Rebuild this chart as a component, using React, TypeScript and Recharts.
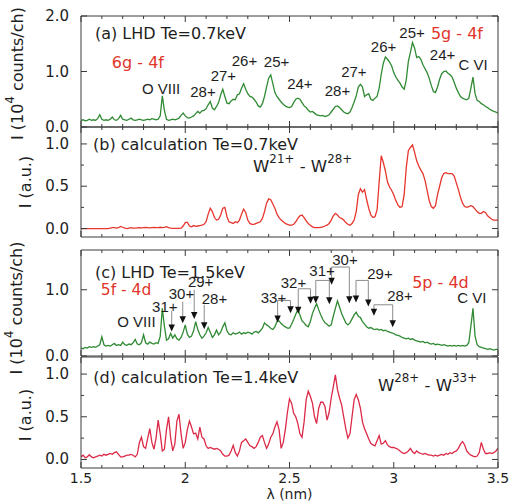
import React from 'react';
import { LineChart, Line, XAxis, YAxis, ReferenceDot, ReferenceLine } from 'recharts';

// Wavelength grid (nm) shared by all four spectra
const WAVELENGTH = [
  1.5, 1.51, 1.52, 1.53, 1.54, 1.55, 1.56, 1.57, 1.58, 1.59,
  1.6, 1.61, 1.62, 1.63, 1.64, 1.65, 1.66, 1.67, 1.68, 1.69,
  1.7, 1.71, 1.72, 1.73, 1.74, 1.75, 1.76, 1.77, 1.78, 1.79,
  1.8, 1.81, 1.82, 1.83, 1.84, 1.85, 1.86, 1.87, 1.88, 1.89,
  1.9, 1.91, 1.92, 1.93, 1.94, 1.95, 1.96, 1.97, 1.98, 1.99,
  2.0, 2.01, 2.02, 2.03, 2.04, 2.05, 2.06, 2.07, 2.08, 2.09,
  2.1, 2.11, 2.12, 2.13, 2.14, 2.15, 2.16, 2.17, 2.18, 2.19,
  2.2, 2.21, 2.22, 2.23, 2.24, 2.25, 2.26, 2.27, 2.28, 2.29,
  2.3, 2.31, 2.32, 2.33, 2.34, 2.35, 2.36, 2.37, 2.38, 2.39,
  2.4, 2.41, 2.42, 2.43, 2.44, 2.45, 2.46, 2.47, 2.48, 2.49,
  2.5, 2.51, 2.52, 2.53, 2.54, 2.55, 2.56, 2.57, 2.58, 2.59,
  2.6, 2.61, 2.62, 2.63, 2.64, 2.65, 2.66, 2.67, 2.68, 2.69,
  2.7, 2.71, 2.72, 2.73, 2.74, 2.75, 2.76, 2.77, 2.78, 2.79,
  2.8, 2.81, 2.82, 2.83, 2.84, 2.85, 2.86, 2.87, 2.88, 2.89,
  2.9, 2.91, 2.92, 2.93, 2.94, 2.95, 2.96, 2.97, 2.98, 2.99,
  3.0, 3.01, 3.02, 3.03, 3.04, 3.05, 3.06, 3.07, 3.08, 3.09,
  3.1, 3.11, 3.12, 3.13, 3.14, 3.15, 3.16, 3.17, 3.18, 3.19,
  3.2, 3.21, 3.22, 3.23, 3.24, 3.25, 3.26, 3.27, 3.28, 3.29,
  3.3, 3.31, 3.32, 3.33, 3.34, 3.35, 3.36, 3.37, 3.38, 3.39,
  3.4, 3.41, 3.42, 3.43, 3.44, 3.45, 3.46, 3.47, 3.48, 3.49,
  3.5,
];

// (a) LHD measurement, Te = 0.7 keV  [10^4 counts/ch]
const LHD_07 = [
  0.12, 0.13, 0.11, 0.12, 0.14, 0.12, 0.13, 0.12, 0.15, 0.22,
  0.14, 0.12, 0.13, 0.12, 0.14, 0.18, 0.13, 0.12, 0.15, 0.21,
  0.14, 0.13, 0.12, 0.14, 0.16, 0.13, 0.12, 0.13, 0.14, 0.13,
  0.12, 0.13, 0.14, 0.13, 0.15, 0.14, 0.13, 0.14, 0.2, 0.56,
  0.3, 0.14, 0.12, 0.13, 0.14, 0.13, 0.14, 0.16, 0.21, 0.25,
  0.2, 0.17, 0.16, 0.18, 0.2, 0.24, 0.28, 0.25, 0.29, 0.3,
  0.33, 0.4, 0.46, 0.34, 0.31, 0.37, 0.44, 0.58, 0.68, 0.55,
  0.43, 0.42, 0.47, 0.5, 0.49, 0.58, 0.6, 0.7, 0.78, 0.68,
  0.6, 0.55, 0.54, 0.5, 0.45, 0.38, 0.36, 0.42, 0.55, 0.72,
  0.88, 0.94, 0.78, 0.62, 0.55, 0.5, 0.45, 0.41, 0.38, 0.36,
  0.35, 0.37, 0.44, 0.5, 0.52, 0.5, 0.44, 0.38, 0.35, 0.3,
  0.27, 0.28, 0.25, 0.22, 0.21, 0.2, 0.21, 0.19, 0.2, 0.22,
  0.27, 0.32, 0.37, 0.38, 0.35, 0.31, 0.27, 0.25, 0.24, 0.27,
  0.35, 0.45, 0.56, 0.72, 0.77, 0.72, 0.55, 0.58, 0.6, 0.5,
  0.48, 0.52, 0.55, 0.7, 0.95, 1.15, 1.26, 1.22, 1.17, 1.1,
  0.98, 0.9, 0.84, 0.79, 0.72, 0.68, 0.85, 1.18, 1.35, 1.52,
  1.42, 1.25, 1.27, 1.22, 1.12, 1.05, 0.98, 0.88, 0.75, 0.64,
  0.62, 0.72, 0.86, 0.96, 1.0, 1.01, 0.97, 0.94, 0.9, 0.8,
  0.7, 0.62, 0.55, 0.52, 0.5, 0.49, 0.52, 0.7, 0.9, 0.6,
  0.48, 0.46, 0.42, 0.4, 0.37, 0.35, 0.32, 0.3, 0.28, 0.27,
  0.25,
];

// (b) calculation, Te = 0.7 keV, W21+ - W28+  [a.u.]
const CALC_07 = [
  0, 0, 0, 0, 0, 0, 0, 0, 0, 0,
  0, 0, 0, 0, 0.005, 0.01, 0.01, 0.005, 0.01, 0.025,
  0.015, 0.005, 0, 0.005, 0.01, 0.005, 0.005, 0.008, 0.01, 0.008,
  0.01, 0.012, 0.01, 0.008, 0.01, 0.012, 0.01, 0.012, 0.015, 0.01,
  0.015, 0.022, 0.01, 0.005, 0.002, 0.002, 0.002, 0.003, 0.005, 0.03,
  0.07, 0.075, 0.03, 0.02, 0.035, 0.025, 0.03, 0.035, 0.04, 0.05,
  0.08, 0.17, 0.24, 0.2, 0.13, 0.1, 0.11, 0.16, 0.24, 0.25,
  0.14, 0.08, 0.07, 0.06, 0.08, 0.07, 0.1, 0.17, 0.23, 0.19,
  0.1, 0.06, 0.05, 0.05, 0.06, 0.07, 0.08, 0.12, 0.2, 0.3,
  0.35, 0.34, 0.29, 0.24, 0.17, 0.13, 0.1, 0.08, 0.06, 0.05,
  0.04, 0.04, 0.05, 0.08, 0.12, 0.15, 0.16, 0.13, 0.09, 0.06,
  0.04, 0.02, 0.01, 0.01, 0.01, 0.015, 0.02, 0.03, 0.04, 0.06,
  0.1, 0.15, 0.18, 0.16, 0.13, 0.12, 0.1, 0.07, 0.05, 0.04,
  0.06, 0.1, 0.2, 0.4, 0.47, 0.43, 0.46, 0.34, 0.24, 0.16,
  0.13, 0.14, 0.22, 0.55, 0.86, 0.78, 0.68, 0.55, 0.49, 0.45,
  0.4, 0.33, 0.28, 0.25, 0.26, 0.4, 0.72, 0.92, 0.96, 0.99,
  0.9, 0.8, 0.74, 0.69, 0.65, 0.57, 0.45, 0.33, 0.26, 0.24,
  0.27, 0.4, 0.5, 0.6, 0.65, 0.66, 0.65, 0.65, 0.65, 0.62,
  0.54, 0.46, 0.37, 0.3, 0.26, 0.25, 0.26, 0.27, 0.26, 0.23,
  0.2, 0.18, 0.18, 0.2, 0.19, 0.15, 0.13, 0.11, 0.1, 0.1,
  0.1,
];

// (c) LHD measurement, Te = 1.5 keV  [10^4 counts/ch]
const LHD_15 = [
  0.12, 0.11, 0.13, 0.12, 0.14, 0.13, 0.14, 0.13, 0.15, 0.17,
  0.29, 0.17, 0.15, 0.16, 0.15, 0.17, 0.19, 0.16, 0.17, 0.16,
  0.21, 0.17, 0.16, 0.18, 0.17, 0.2, 0.25, 0.18, 0.17, 0.2,
  0.32, 0.2, 0.18, 0.21, 0.19, 0.18, 0.2, 0.19, 0.3, 0.72,
  0.45, 0.24, 0.26, 0.34, 0.27, 0.32, 0.26, 0.24, 0.28, 0.36,
  0.47, 0.33, 0.28, 0.3, 0.38, 0.52, 0.4, 0.32, 0.27, 0.3,
  0.35, 0.43, 0.36, 0.28, 0.32, 0.39, 0.32, 0.36, 0.44, 0.5,
  0.38, 0.33, 0.32, 0.35, 0.33, 0.34, 0.36, 0.33, 0.35, 0.34,
  0.36, 0.35, 0.33, 0.36, 0.37, 0.35, 0.38, 0.42, 0.5, 0.47,
  0.45, 0.42, 0.4, 0.44, 0.52, 0.53, 0.49, 0.46, 0.44, 0.42,
  0.42, 0.48, 0.55, 0.63, 0.7, 0.62, 0.53, 0.5, 0.46, 0.44,
  0.52, 0.64, 0.72, 0.79, 0.7, 0.62, 0.55, 0.5, 0.48, 0.45,
  0.47, 0.6, 0.72, 0.83, 0.74, 0.64, 0.57, 0.5, 0.47, 0.5,
  0.56, 0.62, 0.66, 0.6, 0.58, 0.52, 0.48, 0.44, 0.42, 0.43,
  0.41, 0.4, 0.41, 0.39, 0.4, 0.38, 0.39, 0.37, 0.36, 0.35,
  0.34, 0.32, 0.31, 0.3, 0.28, 0.27, 0.26, 0.27, 0.25, 0.26,
  0.24, 0.23, 0.22, 0.21, 0.22, 0.2, 0.21, 0.19, 0.18, 0.19,
  0.17, 0.18, 0.17, 0.16, 0.17, 0.16, 0.15, 0.16, 0.15, 0.16,
  0.15, 0.16, 0.15, 0.16, 0.15, 0.16, 0.2, 0.45, 0.72, 0.3,
  0.17, 0.14, 0.13, 0.12, 0.11, 0.1, 0.11, 0.1, 0.09, 0.1,
  0.1,
];

// (d) calculation, Te = 1.4 keV, W28+ - W33+  [a.u.]
const CALC_14 = [
  0.03, 0.05, 0.02, 0.03, 0.055, 0.03, 0.02, 0.03, 0.04, 0.05,
  0.04, 0.06, 0.05, 0.06, 0.07, 0.06, 0.08, 0.09, 0.06, 0.03,
  0.03, 0.04, 0.05, 0.05, 0.06, 0.05, 0.03, 0.06, 0.2, 0.26,
  0.15, 0.13, 0.25, 0.36, 0.2, 0.12, 0.25, 0.46, 0.3, 0.1,
  0.12, 0.35, 0.5, 0.25, 0.1, 0.18, 0.45, 0.53, 0.3, 0.13,
  0.2, 0.35, 0.45, 0.38, 0.3, 0.31, 0.24, 0.38, 0.26, 0.24,
  0.16, 0.13, 0.14, 0.13, 0.12, 0.13, 0.12, 0.1, 0.06, 0.04,
  0.04, 0.05, 0.1, 0.165, 0.08, 0.04, 0.1, 0.2, 0.22, 0.24,
  0.2, 0.16, 0.15, 0.13, 0.15, 0.2, 0.26, 0.28, 0.2, 0.13,
  0.18, 0.26, 0.3, 0.38, 0.44, 0.35, 0.13, 0.2, 0.35, 0.55,
  0.71, 0.66, 0.54, 0.5, 0.42, 0.3, 0.26, 0.44, 0.7, 0.8,
  0.74, 0.66, 0.5, 0.42, 0.6, 0.67, 0.67, 0.62, 0.46, 0.55,
  0.72, 0.85, 0.99, 0.82, 0.72, 0.64, 0.5, 0.36, 0.25, 0.3,
  0.5, 0.7, 0.76, 0.7, 0.6, 0.44, 0.36, 0.3, 0.24, 0.19,
  0.17, 0.16, 0.22, 0.28, 0.18, 0.19, 0.22, 0.17, 0.15, 0.14,
  0.14, 0.13, 0.12, 0.1, 0.08, 0.07, 0.08, 0.1, 0.13, 0.09,
  0.07, 0.1, 0.08, 0.07, 0.06, 0.07, 0.06, 0.05, 0.05, 0.04,
  0.05, 0.04, 0.05, 0.06, 0.05, 0.07, 0.06, 0.08, 0.07, 0.09,
  0.1, 0.13, 0.18, 0.21, 0.17, 0.1, 0.07, 0.05, 0.04, 0.03,
  0.04, 0.08, 0.2, 0.12, 0.07, 0.07, 0.08, 0.07, 0.08, 0.1,
  0.13,
];

const X_TICKS = [
  1.5, 1.6, 1.7, 1.8, 1.9, 2.0, 2.1, 2.2, 2.3, 2.4, 2.5,
  2.6, 2.7, 2.8, 2.9, 3.0, 3.1, 3.2, 3.3, 3.4, 3.5,
];
const X_TICK_LABELS = [1.5, 2, 2.5, 3, 3.5];

const Y_TICKS_A = [0, 1, 2];
const Y_LABELS_A = [0, 1, 2];
const Y_TICKS_B = [0, 0.25, 0.5, 0.75, 1];
const Y_LABELS_B = [0, 0.5, 1];
const Y_TICKS_C = [0, 1];
const Y_LABELS_C = [0, 1];
const Y_TICKS_D = [0, 0.25, 0.5, 0.75, 1];
const Y_LABELS_D = [0, 0.5, 1];

type Note = { x: number; y: number; text: string; red?: boolean; start?: boolean; size?: number; wide?: boolean };

// Annotations, anchored in (wavelength, intensity) coordinates
const NOTES_A: Note[] = [
  { x: 1.567, y: 1.694, text: '(a) LHD Te=0.7keV', start: true, size: 16, wide: true },
  { x: 1.773, y: 1.171, text: '6g - 4f', red: true, size: 16, wide: true },
  { x: 1.884, y: 0.703, text: 'O VIII' },
  { x: 2.085, y: 0.649, text: '28+' },
  { x: 2.183, y: 0.937, text: '27+' },
  { x: 2.284, y: 1.207, text: '26+' },
  { x: 2.438, y: 1.189, text: '25+' },
  { x: 2.55, y: 0.793, text: '24+' },
  { x: 2.73, y: 0.667, text: '28+' },
  { x: 2.809, y: 1.009, text: '27+' },
  { x: 2.951, y: 1.459, text: '26+' },
  { x: 3.088, y: 1.712, text: '25+' },
  { x: 3.234, y: 1.315, text: '24+' },
  { x: 3.303, y: 1.694, text: '5g - 4f', red: true, size: 16, wide: true },
  { x: 3.38, y: 1.135, text: 'C VI' },
];

const NOTES_B: Note[] = [
  { x: 1.558, y: 1.0, text: '(b) calculation Te=0.7keV', start: true, size: 16, wide: true },
  { x: 2.325, y: 0.735, text: 'W^{21+} - W^{28+}', start: true, size: 16.5, wide: true },
];

const NOTES_C: Note[] = [
  { x: 1.567, y: 1.273, text: '(c) LHD Te=1.5keV', start: true, size: 16, wide: true },
  { x: 1.716, y: 0.99, text: '5f - 4d', red: true, size: 15.5, wide: true },
  { x: 1.766, y: 0.53, text: 'O VIII' },
  { x: 1.902, y: 0.75, text: '31+' },
  { x: 1.982, y: 0.95, text: '30+' },
  { x: 2.074, y: 1.125, text: '29+' },
  { x: 2.14, y: 0.879, text: '28+' },
  { x: 2.423, y: 0.894, text: '33+' },
  { x: 2.519, y: 1.121, text: '32+' },
  { x: 2.656, y: 1.303, text: '31+' },
  { x: 2.766, y: 1.47, text: '30+' },
  { x: 2.934, y: 1.258, text: '29+' },
  { x: 3.03, y: 0.924, text: '28+' },
  { x: 3.224, y: 1.121, text: '5p - 4d', red: true, size: 16, wide: true },
  { x: 3.375, y: 0.894, text: 'C VI' },
];

// single arrows: [wavelength, from, to]
const ARROWS_C = [
  [1.935, 0.68, 0.368],
  [1.988, 0.82, 0.495],
  [2.043, 1.0, 0.56],
  [2.091, 0.773, 0.405],
];

// bracket arrows: [left wavelength, right wavelength, bar level, left tip, right tip]
const BRACKETS_C = [
  [2.443, 2.505, 0.838, 0.505, 0.647],
  [2.542, 2.601, 1.015, 0.636, 0.788],
  [2.626, 2.691, 1.141, 0.798, 0.783],
  [2.702, 2.787, 1.343, 1.076, 0.798],
  [2.819, 2.878, 1.141, 0.808, 0.747],
  [2.905, 2.995, 0.773, 0.606, 0.435],
];

const NOTES_D: Note[] = [
  { x: 1.559, y: 0.967, text: '(d) calculation Te=1.4keV', start: true, size: 16, wide: true },
  { x: 2.924, y: 0.874, text: 'W^{28+} - W^{33+}', start: true, size: 16.5, wide: true },
];

const FONT = '"DejaVu Sans", "Liberation Sans", Arial, sans-serif';
const ION_FONT = '"Liberation Sans", Arial, sans-serif';
const FRAME = '#3a3a3a';
const INK = '#1e1e1e';
const RED = '#e2352b';
const ARROW_GREY = '#8c8c8c';
const GREEN = '#2f8a33';
const PAD = 24;
const ION_SIZE = 15;

const near = (a: number, b: number) => Math.abs(a - b) < 1e-6;
const isHalf = (v: number) => near(v * 2, Math.round(v * 2));
const inList = (v: number, list: number[]) => list.some((l) => near(l, v));

// text with ^{...} superscripts
function richText(text: string, size: number) {
  const parts = text.split(/\^\{([^}]*)\}/);
  const shift = Math.round(size * 0.42);
  const spans: React.ReactNode[] = [];
  let up = false;
  parts.forEach((p, i) => {
    if (p === '') return;
    const sup = i % 2 === 1;
    let dy = 0;
    if (sup && !up) {
      dy = -shift;
      up = true;
    } else if (!sup && up) {
      dy = shift;
      up = false;
    }
    spans.push(
      <tspan key={i} dy={dy || undefined} fontSize={sup ? size * 0.72 : size}>
        {p}
      </tspan>
    );
  });
  return spans;
}

function noteDot(n: Note, key: string) {
  const size = n.size ?? ION_SIZE;
  return (
    <ReferenceDot
      key={key}
      x={n.x}
      y={n.y}
      r={0}
      ifOverflow="visible"
      shape={(p: any) => (
        <text
          x={p.cx}
          y={p.cy}
          textAnchor={n.start ? 'start' : 'middle'}
          dominantBaseline="central"
          fontSize={size}
          fontFamily={n.wide ? FONT : ION_FONT}
          fill={n.red ? RED : INK}
        >
          {richText(n.text, size)}
        </text>
      )}
    />
  );
}

function arrowSeg(x1: number, y1: number, x2: number, y2: number, head: boolean, key: string) {
  return (
    <ReferenceLine
      key={key}
      segment={[
        { x: x1, y: y1 },
        { x: x2, y: y2 },
      ]}
      ifOverflow="visible"
      shape={(p: any) => (
        <g>
          <line x1={p.x1} y1={p.y1} x2={p.x2} y2={head ? p.y2 - 5 : p.y2} stroke={ARROW_GREY} strokeWidth={1} />
          {head ? (
            <path d={`M${p.x2},${p.y2} L${p.x2 - 3.2},${p.y2 - 7} L${p.x2 + 3.2},${p.y2 - 7} Z`} fill="#111" />
          ) : null}
        </g>
      )}
    />
  );
}

const xTick = (side: 'top' | 'bottom', labels: boolean) => (p: any) => {
  const v = p.payload.value;
  const len = isHalf(v) ? 6 : 3;
  const dir = side === 'bottom' ? -1 : 1;
  return (
    <g>
      <line x1={p.x} x2={p.x} y1={p.y} y2={p.y + dir * len} stroke={FRAME} strokeWidth={1} />
      {labels && inList(v, X_TICK_LABELS) ? (
        <text x={p.x} y={p.y + 10} textAnchor="middle" dominantBaseline="central" fontSize={14} fill={INK}>
          {String(v)}
        </text>
      ) : null}
    </g>
  );
};

const yTick = (side: 'left' | 'right', labels: number[]) => (p: any) => {
  const v = p.payload.value;
  const major = inList(v, labels);
  const len = major ? 6 : 3;
  const dir = side === 'left' ? 1 : -1;
  return (
    <g>
      <line x1={p.x} x2={p.x + dir * len} y1={p.y} y2={p.y} stroke={FRAME} strokeWidth={1} />
      {side === 'left' && inList(v, labels) ? (
        <text x={p.x - 12} y={p.y} textAnchor="end" dominantBaseline="central" fontSize={15} fill={INK}>
          {v.toFixed(1)}
        </text>
      ) : null}
    </g>
  );
};

type PanelCfg = {
  plotTop: number;
  plotHeight: number;
  values: number[];
  color: string;
  yDomain: [number, number];
  yTicks: number[];
  yLabels: number[];
  yTitle: string;
  titleDx: number;
  titleDy: number;
  xTitle?: string;
  notes: Note[];
  arrows?: number[][];
  brackets?: number[][];
};

function SpectrumPanel({ cfg }: { cfg: PanelCfg }) {
  const rows = WAVELENGTH.map((lam, i) => ({ lam, v: cfg.values[i] }));
  const hasX = !!cfg.xTitle;
  const bottomAxisH = hasX ? 34 : 2;
  const height = PAD + cfg.plotHeight + (hasX ? bottomAxisH : PAD);

  const extras: React.ReactNode[] = [];
  (cfg.arrows ?? []).forEach((a, i) => {
    extras.push(arrowSeg(a[0], a[1], a[0], a[2], true, `ar${i}`));
  });
  (cfg.brackets ?? []).forEach((b, i) => {
    extras.push(arrowSeg(b[0], b[2], b[0], b[3], true, `bl${i}`));
    extras.push(arrowSeg(b[0], b[2], b[1], b[2], false, `bt${i}`));
    extras.push(arrowSeg(b[1], b[2], b[1], b[4], true, `br${i}`));
  });
  cfg.notes.forEach((n, i) => extras.push(noteDot(n, `n${i}`)));

  return (
    <div style={{ position: 'absolute', left: 0, top: cfg.plotTop - PAD }}>
      <LineChart
        width={509}
        height={height}
        data={rows}
        margin={{ top: PAD - 2, right: 1, bottom: hasX ? 0 : PAD - 2, left: 41 }}
      >
        <XAxis
          dataKey="lam"
          type="number"
          domain={[1.5, 3.5]}
          allowDataOverflow
          ticks={X_TICKS}
          interval={0}
          height={bottomAxisH}
          tickSize={0}
          tickMargin={0}
          tickLine={false}
          axisLine={{ stroke: FRAME, strokeWidth: 1 }}
          tick={xTick('bottom', hasX)}
          label={
            hasX
              ? (props: any) => {
                  const vb = props.viewBox;
                  return (
                    <text
                      x={vb.x + vb.width / 2}
                      y={vb.y + 26}
                      textAnchor="middle"
                      dominantBaseline="central"
                      fontSize={14}
                      fill={INK}
                    >
                      {cfg.xTitle}
                    </text>
                  );
                }
              : undefined
          }
        />
        <XAxis
          xAxisId="top"
          dataKey="lam"
          orientation="top"
          type="number"
          domain={[1.5, 3.5]}
          allowDataOverflow
          ticks={X_TICKS}
          interval={0}
          height={2}
          tickSize={0}
          tickMargin={0}
          tickLine={false}
          axisLine={{ stroke: FRAME, strokeWidth: 1 }}
          tick={xTick('top', false)}
        />
        <YAxis
          type="number"
          domain={cfg.yDomain}
          allowDataOverflow
          ticks={cfg.yTicks}
          interval={0}
          width={40}
          tickSize={0}
          tickMargin={0}
          tickLine={false}
          axisLine={{ stroke: FRAME, strokeWidth: 1 }}
          tick={yTick('left', cfg.yLabels)}
          label={(props: any) => {
            const vb = props.viewBox;
            const cx = vb.x + cfg.titleDx;
            const cy = vb.y + vb.height / 2 + cfg.titleDy;
            return (
              <text
                x={cx}
                y={cy}
                transform={`rotate(-90 ${cx} ${cy})`}
                textAnchor="middle"
                dominantBaseline="central"
                fontSize={16}
                fill={INK}
              >
                {richText(cfg.yTitle, 16)}
              </text>
            );
          }}
        />
        <YAxis
          yAxisId="right"
          dataKey="v"
          orientation="right"
          type="number"
          domain={cfg.yDomain}
          allowDataOverflow
          ticks={cfg.yTicks}
          interval={0}
          width={10}
          tickSize={0}
          tickMargin={0}
          tickLine={false}
          axisLine={{ stroke: FRAME, strokeWidth: 1 }}
          tick={yTick('right', cfg.yLabels)}
        />
        <Line
          type="linear"
          dataKey="v"
          stroke={cfg.color}
          strokeWidth={1.3}
          dot={false}
          activeDot={false}
          isAnimationActive={false}
        />
        {extras}
      </LineChart>
    </div>
  );
}

const PANELS: PanelCfg[] = [
  {
    plotTop: 16, plotHeight: 111, values: LHD_07, color: GREEN,
    yDomain: [0, 2], yTicks: Y_TICKS_A, yLabels: Y_LABELS_A,
    yTitle: 'I (10^{4} counts/ch)', titleDx: -24, titleDy: 2, notes: NOTES_A,
  },
  {
    plotTop: 127, plotHeight: 110, values: CALC_07, color: '#e6362e',
    yDomain: [-0.1, 1.2], yTicks: Y_TICKS_B, yLabels: Y_LABELS_B,
    yTitle: 'I (a.u.)', titleDx: -16, titleDy: 0, notes: NOTES_B,
  },
  {
    plotTop: 250, plotHeight: 106, values: LHD_15, color: GREEN,
    yDomain: [0, 1.6], yTicks: Y_TICKS_C, yLabels: Y_LABELS_C,
    yTitle: 'I (10^{4} counts/ch)', titleDx: -25, titleDy: 5, notes: NOTES_C,
    arrows: ARROWS_C, brackets: BRACKETS_C,
  },
  {
    plotTop: 357, plotHeight: 111, values: CALC_14, color: '#dc2a48',
    yDomain: [-0.1, 1.2], yTicks: Y_TICKS_D, yLabels: Y_LABELS_D,
    yTitle: 'I (a.u.)', titleDx: -16, titleDy: 2.5, notes: NOTES_D, xTitle: 'λ (nm)',
  },
];

export default function App() {
  return (
    <div
      style={{
        position: 'absolute',
        left: 0,
        top: 0,
        width: 509,
        height: 502,
        overflow: 'hidden',
        background: '#ffffff',
        fontFamily: FONT,
      }}
    >
      {PANELS.map((cfg, i) => (
        <SpectrumPanel key={i} cfg={cfg} />
      ))}
    </div>
  );
}
